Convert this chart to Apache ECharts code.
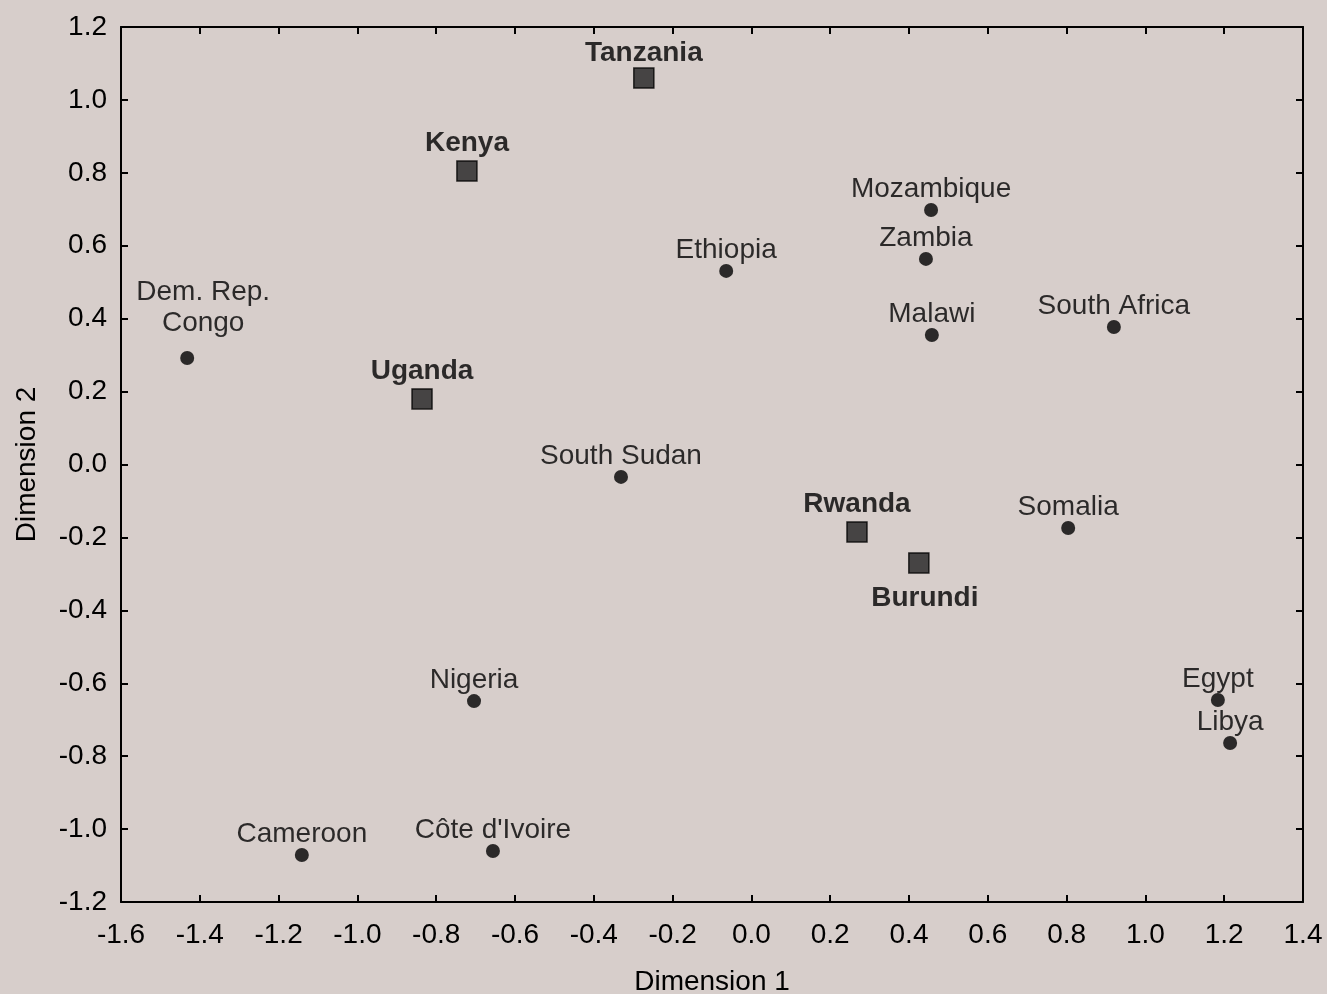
<!DOCTYPE html>
<html>
<head>
<meta charset="utf-8">
<script src="https://cdn.jsdelivr.net/npm/echarts@6/dist/echarts.min.js"></script>
<style>
html,body{margin:0;padding:0;background:#d7cecb;}
#c{width:1327px;height:994px;}
</style>
</head>
<body>
<div id="c"></div>
<script>
// Countries in East Africa Community (squares)
const eacNames = ['Tanzania','Kenya','Uganda','Rwanda','Burundi'];
const eacX = [-0.273,-0.722,-0.836,0.268,0.425];
const eacY = [1.060,0.805,0.180,-0.185,-0.270];

// Other countries (circles)
const otherNames = ['Mozambique','Zambia','Ethiopia','Malawi','South Africa','Dem. Rep.\nCongo','South Sudan','Somalia','Nigeria','Egypt','Libya','Cameroon',"Côte d'Ivoire"];
const otherX = [0.456,0.443,-0.064,0.458,0.920,-1.432,-0.331,0.804,-0.704,1.184,1.215,-1.141,-0.656];
const otherY = [0.698,0.564,0.531,0.355,0.377,0.292,-0.034,-0.174,-0.649,-0.646,-0.764,-1.071,-1.060];

const xTicks = {min:-1.6,max:1.4,interval:0.2};
const yTicks = {min:-1.2,max:1.2,interval:0.2};

// label style tweaks (not data)
const labelTweaks = {
  'Burundi': {position:'bottom', distance:11, offset:[6,0]},
  'Tanzania': {distance:0},
  'Dem. Rep.\nCongo': {distance:12, offset:[16,0], lineHeight:31}
};

const FONT = 'Liberation Sans, Arial, Helvetica, sans-serif';
const FS = 28;

function buildData(names, xs, ys){
  return names.map((n,i)=>{
    const d = {name:n, value:[xs[i],ys[i]]};
    if(labelTweaks[n]) d.label = labelTweaks[n];
    return d;
  });
}

const chart = echarts.init(document.getElementById('c'), null, {renderer:'canvas'});
const axisCommon = {
  axisLine:{show:true,onZero:false,lineStyle:{color:'#000',width:2}},
  axisTick:{show:true,inside:true,length:7,lineStyle:{color:'#000',width:2}},
  splitLine:{show:false}
};
chart.setOption({
  backgroundColor:'#d7cecb',
  animation:false,
  grid:{left:121,right:24,top:27,bottom:92,show:false,containLabel:false,outerBoundsMode:'none'},
  xAxis:[
    Object.assign({type:'value',min:xTicks.min,max:xTicks.max,interval:xTicks.interval,
      name:'Dimension 1',nameLocation:'middle',nameGap:66,
      nameTextStyle:{fontFamily:FONT,fontSize:FS,color:'#000'},
      axisLabel:{fontFamily:FONT,fontSize:FS,color:'#000',margin:19,formatter:v=>v.toFixed(1)}},axisCommon),
    Object.assign({type:'value',position:'top',min:xTicks.min,max:xTicks.max,interval:xTicks.interval,
      axisLabel:{show:false}},axisCommon)
  ],
  yAxis:[
    Object.assign({type:'value',min:yTicks.min,max:yTicks.max,interval:yTicks.interval,
      name:'Dimension 2',nameLocation:'middle',nameGap:80,
      nameTextStyle:{fontFamily:FONT,fontSize:FS,color:'#000'},
      axisLabel:{fontFamily:FONT,fontSize:FS,color:'#000',margin:14,formatter:v=>v.toFixed(1)}},axisCommon),
    Object.assign({type:'value',position:'right',min:yTicks.min,max:yTicks.max,interval:yTicks.interval,
      axisLabel:{show:false}},axisCommon)
  ],
  series:[
    {
      type:'scatter',
      symbol:'circle',symbolSize:14,
      itemStyle:{color:'#000'},
      label:{show:true,position:'top',distance:0,formatter:p=>p.name,
        fontFamily:FONT,fontSize:FS,color:'#000'},
      data:buildData(otherNames,otherX,otherY)
    },
    {
      type:'scatter',
      symbol:'rect',symbolSize:20,
      itemStyle:{color:'#222',borderColor:'#000',borderWidth:1.5},
      label:{show:true,position:'top',distance:3,formatter:p=>p.name,
        fontFamily:FONT,fontSize:FS,fontWeight:'bold',color:'#000'},
      data:buildData(eacNames,eacX,eacY)
    }
  ]
});
</script>
</body>
</html>
